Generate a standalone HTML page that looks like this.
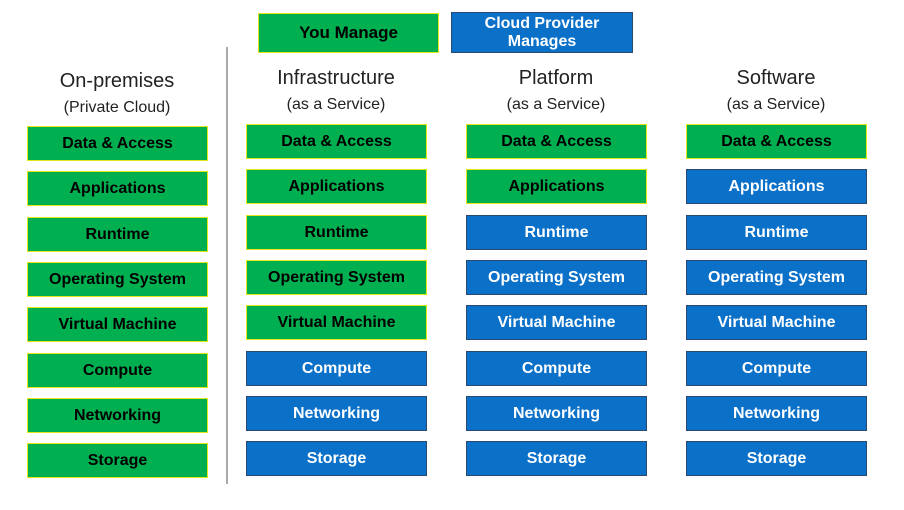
<!DOCTYPE html><html><head><style>
body{margin:0;width:904px;height:510px;background:#fff;position:relative;font-family:"Liberation Sans",sans-serif;overflow:hidden}
.b{position:absolute;width:179px;height:34px;display:flex;align-items:center;justify-content:center;font-weight:bold;font-size:16px;box-sizing:border-box}
.g{background:#00b050;border:1px solid #e6e619;color:#000}
.u{background:#0a70c8;border:1px solid #2a4a70;color:#fff}
.t{position:absolute;width:220px;text-align:center;color:#222}
.t1{font-size:20px}.t2{font-size:16px}
</style></head><body>
<div class="b g" style="left:258px;top:13px;width:181px;height:40px;font-size:17px">You Manage</div>
<div class="b u" style="left:451px;top:12px;width:182px;height:41px;font-size:16px;line-height:18px;text-align:center">Cloud Provider<br>Manages</div>
<div style="position:absolute;left:226px;top:47px;width:2px;height:437px;background:#aaa"></div>
<div class="t t1" style="left:7px;top:70px">On-premises</div>
<div class="t t2" style="left:7px;top:99px">(Private Cloud)</div>
<div class="t t1" style="left:226px;top:67px">Infrastructure</div>
<div class="t t2" style="left:226px;top:96px">(as a Service)</div>
<div class="t t1" style="left:446px;top:67px">Platform</div>
<div class="t t2" style="left:446px;top:96px">(as a Service)</div>
<div class="t t1" style="left:666px;top:67px">Software</div>
<div class="t t2" style="left:666px;top:96px">(as a Service)</div>
<div id="c"></div>
<script>
var L=["Data & Access","Applications","Runtime","Operating System","Virtual Machine","Compute","Networking","Storage"];
var cols=[[27,126,8],[246,124,5],[466,124,2],[686,124,1]];
var h="";
cols.forEach(function(c){for(var i=0;i<8;i++){var y=c[1]+Math.round(i*45.3);h+='<div class="b '+(i<c[2]?'g':'u')+'" style="left:'+c[0]+'px;top:'+y+'px;width:181px;height:35px">'+L[i].replace('&','&amp;')+'</div>';}});
document.getElementById("c").innerHTML=h;
</script>
</body></html>
